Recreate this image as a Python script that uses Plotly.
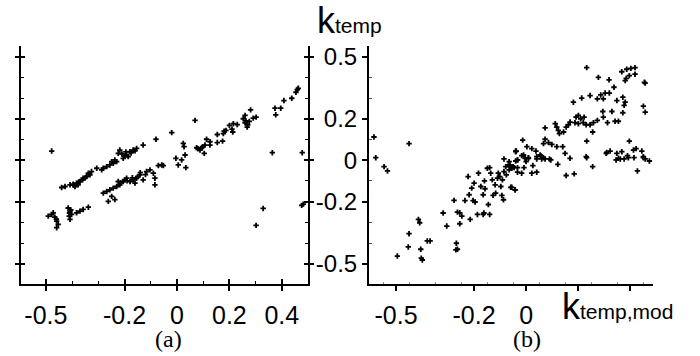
import plotly.graph_objects as go

# ---------------- data ----------------
xa = [-0.478, -0.080, -0.129,
      -0.218, -0.224, -0.192, -0.179, -0.167, -0.154, -0.186, -0.205, -0.230, -0.243, -0.256, -0.268,
      -0.281, -0.287, -0.306, -0.326, -0.332, -0.345, -0.358, -0.370, -0.383, -0.396, -0.408, -0.427,
      -0.440, -0.389, -0.377, -0.338, -0.237, -0.249,
      -0.21, -0.20, -0.175, -0.16, -0.195, -0.36, -0.35, -0.395, -0.375,
      -0.058, -0.071, -0.103, -0.116, -0.090, -0.084, -0.084, -0.141, -0.154, -0.167, -0.179, -0.192,
      -0.205, -0.218, -0.230, -0.243, -0.256, -0.268, -0.281, -0.249, -0.237, -0.262, -0.224, -0.160,
      -0.129, -0.20, -0.19, -0.17, -0.15, -0.215, -0.14, -0.12,
      -0.491, -0.472, -0.466, -0.459, -0.459, -0.453, -0.415, -0.408, -0.402, -0.408, -0.383, -0.370,
      -0.358, -0.338, -0.478, -0.411, -0.41, -0.405, -0.46,
      -0.052, -0.020, -0.004, 0.005, 0.018, 0.031, 0.034, 0.024, 0.027, 0.069, 0.075, 0.088, 0.098,
      0.107, 0.104, 0.113, 0.126, 0.126, 0.154, 0.154, 0.174, 0.177, 0.187, 0.200, 0.215, 0.213, 0.230,
      0.253, 0.260, 0.263, 0.268, 0.276, 0.281, 0.291, 0.302, 0.329, 0.302, 0.364, 0.374, 0.377, 0.396,
      0.408, 0.438, 0.454, 0.459, 0.463, 0.478, 0.476, 0.482,
      0.08, 0.095, 0.18, 0.21, 0.26, 0.27]
ya = [0.044, 0.101, 0.073,
      0.049, 0.033, 0.025, 0.041, 0.049, 0.057, 0.017, 0.009, -0.007, -0.015, -0.023, -0.031,
      -0.039, -0.047, -0.039, -0.055, -0.071, -0.079, -0.087, -0.103, -0.111, -0.116, -0.119, -0.127,
      -0.132, -0.127, -0.119, -0.063, 0.001, -0.007,
      0.03, 0.02, 0.035, 0.045, 0.04, -0.095, -0.085, -0.12, -0.105,
      -0.023, -0.026, -0.047, -0.055, -0.063, -0.087, -0.119, -0.071, -0.087, -0.095, -0.103, -0.087,
      -0.103, -0.119, -0.127, -0.135, -0.143, -0.151, -0.159, -0.175, -0.190, -0.199, -0.103, -0.111,
      -0.095, -0.095, -0.10, -0.085, -0.08, -0.11, -0.06, -0.07,
      -0.270, -0.254, -0.275, -0.294, -0.326, -0.310, -0.231, -0.246, -0.262, -0.286, -0.254, -0.246,
      -0.238, -0.227, -0.262, -0.270, -0.255, -0.24, -0.285,
      -0.026, 0.133, 0.009, -0.023, 0.001, 0.025, -0.036, 0.081, 0.065, 0.192, 0.060, 0.049, 0.065,
      0.073, 0.033, 0.101, 0.089, 0.073, 0.124, 0.085, 0.092, 0.128, 0.144, 0.168, 0.176, 0.136, 0.172,
      0.200, 0.216, 0.190, 0.160, 0.187, 0.243, 0.203, 0.208, -0.233, -0.315, 0.036, 0.251, 0.219, 0.251,
      0.288, 0.299, 0.328, 0.341, 0.347, 0.036, -0.218, -0.212,
      0.055, 0.06, 0.14, 0.15, 0.18, 0.17]

xb = [-0.585, -0.450, -0.578, -0.546, -0.533, -0.085, -0.040, -0.033,
      -0.495, -0.450, -0.453, -0.414, -0.409, -0.405, -0.403, -0.399, -0.380, -0.369, -0.319, -0.305,
      -0.277, -0.268, -0.270, -0.264, -0.264, -0.255, -0.247, -0.255, -0.235, -0.223, -0.219, -0.215,
      -0.209, -0.204, -0.200, -0.196, -0.187, -0.183, -0.174, -0.165, -0.162, -0.158, -0.160, -0.165,
      -0.149, -0.140, -0.145, -0.140, -0.136, -0.130, -0.127, -0.119, -0.117, -0.110, -0.107, -0.101,
      -0.097, -0.093, -0.091, -0.087, -0.085, -0.078, -0.076, -0.068, -0.065, -0.059, -0.055, -0.050,
      -0.042, -0.040, -0.033, -0.040, -0.065,
      0.233, 0.278, 0.319, 0.368, 0.387, 0.403, 0.419, 0.397, 0.385, 0.381, 0.419, 0.458, 0.451, 0.458,
      0.338, 0.320, 0.304, 0.287, 0.274, 0.297, 0.246, 0.214, 0.182, 0.349, 0.372, 0.381, 0.377, 0.372,
      0.330, 0.295, 0.297, 0.313, 0.342, 0.355, 0.274, 0.259, 0.246, 0.256, 0.231, 0.220, 0.223, 0.210,
      0.201, 0.192, 0.188, 0.201, 0.169, 0.163, 0.154, 0.144, 0.128, 0.112, 0.118, 0.124, 0.073, 0.073,
      0.067, 0.086, 0.099, 0.118, 0.141, -0.013, 0.003, 0.022, 0.038, -0.038, -0.010, 0.054, 0.067,
      0.090, 0.041, 0.009, 0.150, 0.169, 0.233, 0.233, 0.310, 0.323, 0.349, 0.368, 0.397, 0.393, 0.413,
      0.423, 0.445, 0.362, 0.451,
      -0.017, -0.004, 0.009, -0.033, 0.000, -0.008, 0.026, 0.041, 0.057, 0.060, 0.073, 0.095, 0.122,
      0.154, 0.185, 0.231, 0.256, 0.308, 0.346, 0.355, 0.377, 0.390, 0.415, 0.451, 0.458, 0.474, 0.428,
      -0.046, -0.050, -0.062, -0.033, -0.017, 0.022, 0.041, -0.055, -0.042, 0.455]
yb = [0.112, 0.080, 0.012, -0.031, -0.052, 0.006, 0.044, 0.001,
      -0.463, -0.355, -0.419, -0.286, -0.302, -0.430, -0.473, -0.482, -0.390, -0.390, -0.255, -0.318,
      -0.194, -0.401, -0.433, -0.430, -0.251, -0.254, -0.270, -0.307, -0.195, -0.079, -0.167, -0.286,
      -0.135, -0.195, -0.111, -0.202, -0.262, -0.063, -0.127, -0.262, -0.255, -0.138, -0.100, -0.167,
      -0.039, -0.036, -0.214, -0.262, -0.063, -0.095, -0.170, -0.119, -0.159, -0.087, -0.063, -0.079,
      -0.127, -0.170, -0.095, -0.191, -0.055, -0.031, -0.071, -0.023, -0.047, -0.131, -0.039, -0.031,
      -0.143, -0.004, -0.036, 0.041, -0.007,
      0.447, 0.400, 0.388, 0.427, 0.439, 0.443, 0.447, 0.408, 0.395, 0.384, 0.415, 0.372, 0.261, 0.232,
      0.352, 0.324, 0.324, 0.315, 0.296, 0.296, 0.312, 0.300, 0.280, 0.288, 0.304, 0.280, 0.265, 0.229,
      0.235, 0.235, 0.208, 0.181, 0.188, 0.188, 0.192, 0.181, 0.171, 0.136, 0.171, 0.181, 0.208, 0.200,
      0.216, 0.208, 0.181, 0.176, 0.184, 0.171, 0.160, 0.136, 0.128, 0.176, 0.160, 0.144, 0.156, 0.101,
      0.080, 0.085, 0.076, 0.065, 0.065, 0.097, 0.065, 0.056, 0.044, 0.044, 0.025, 0.025, 0.012,
      0.006, 0.006, 0.009, 0.033, 0.009, 0.092, 0.012, 0.037, 0.044, 0.033, 0.041, 0.092, 0.012, 0.049,
      0.056, 0.044, 0.006, 0.012,
      0.022, 0.009, 0.012, 0.001, -0.007, -0.036, -0.026, 0.017, 0.022, 0.006, 0.006, 0.001, -0.020,
      -0.074, -0.066, 0.017, -0.031, 0.033, 0.001, 0.009, 0.006, 0.022, 0.012, 0.017, 0.006, -0.004, -0.052,
      -0.036, -0.031, -0.023, -0.058, -0.063, -0.063, -0.058, -0.131, -0.143, 0.376]

major_x = [-0.5, -0.2, 0, 0.2, 0.4]
major_x_text_a = ["-0.5", "-0.2", "0", "0.2", "0.4"]
major_x_text_b = ["-0.5", "-0.2", "0", "", ""]
minor_x_a = [-0.4, -0.3, -0.1, 0.1, 0.3]
minor_x_b = [-0.55, -0.45, -0.35, -0.25, -0.15, -0.05, 0.05, 0.15, 0.25, 0.35, 0.45]
major_y = [0.5, 0.2, 0, -0.2, -0.5]
major_y_text = ["0.5", "0.2", "0", "-0.2", "-0.5"]
minor_y = [0.4, 0.3, 0.1, -0.1, -0.3, -0.4]

x_range_a = [-0.595, 0.5]
x_range_b = [-0.604, 0.488]
y_range = [-0.596, 0.553]

# ---------------- figure ----------------
FONT = "Liberation Sans, Arial, sans-serif"
SERIF = "Liberation Serif, Times New Roman, serif"
mk = dict(symbol="cross", size=4.5, color="black", line=dict(width=0))

fig = go.Figure()
fig.add_trace(go.Scatter(x=xa, y=ya, mode="markers", marker=mk, xaxis="x", yaxis="y", showlegend=False))
fig.add_trace(go.Scatter(x=xb, y=yb, mode="markers", marker=mk, xaxis="x2", yaxis="y2", showlegend=False))
# empty trace for the overlay axes giving the inner half of crossing ticks
fig.add_trace(go.Scatter(x=[None], y=[None], mode="markers", xaxis="x3", yaxis="y3", showlegend=False))

dom_xa = [21 / 700, 308 / 700]
dom_xb = [369 / 700, 653 / 700]
dom_y = [1 - 283 / 356, 1 - 43 / 356]

common = dict(showgrid=False, zeroline=False, linecolor="black", linewidth=2, tickcolor="black")
xfont = dict(family=FONT, size=25, color="black")
yfont = dict(family=FONT, size=24, color="black")

fig.update_layout(
    width=700, height=356, margin=dict(l=0, r=0, t=0, b=0),
    paper_bgcolor="white", plot_bgcolor="white",
    xaxis=dict(domain=dom_xa, range=x_range_a, anchor="y", showline=True, ticks="outside",
               ticklen=5, tickwidth=2, tickmode="array", tickvals=major_x, ticktext=major_x_text_a,
               ticklabelstandoff=3, tickfont=xfont, **common),
    xaxis3=dict(overlaying="x", anchor="y3", range=x_range_a, showline=False, ticks="inside",
                ticklen=5, tickwidth=2, tickmode="array", tickvals=major_x, showticklabels=False,
                minor=dict(tickmode="array", tickvals=minor_x_a, ticks="inside", ticklen=3,
                           tickwidth=1, tickcolor="black"),
                **common),
    yaxis=dict(domain=dom_y, range=y_range, anchor="x", showline=True, mirror="ticks",
               ticks="outside", ticklen=4, tickwidth=2, tickmode="array", tickvals=major_y,
               showticklabels=False, **common),
    yaxis3=dict(overlaying="y", anchor="x3", range=y_range, showline=False, mirror="ticks",
                ticks="inside", ticklen=4, tickwidth=2, tickmode="array", tickvals=major_y,
                showticklabels=False,
                minor=dict(tickmode="array", tickvals=minor_y, ticks="inside", ticklen=3,
                           tickwidth=1, tickcolor="black"),
                **common),
    xaxis2=dict(domain=dom_xb, range=x_range_b, anchor="y2", showline=True, ticks="outside",
                ticklen=5, tickwidth=2, tickmode="array", tickvals=major_x, ticktext=major_x_text_b,
                ticklabelstandoff=3, tickfont=xfont,
                minor=dict(tickmode="array", tickvals=minor_x_b, ticks="inside", ticklen=2,
                           tickwidth=1, tickcolor="#888"),
                **common),
    yaxis2=dict(domain=dom_y, range=y_range, anchor="x2", showline=True, ticks="outside",
                ticklen=5, tickwidth=2, tickmode="array", tickvals=major_y, ticktext=major_y_text,
                tickfont=yfont,
                minor=dict(tickmode="array", tickvals=minor_y, ticks="inside", ticklen=3,
                           tickwidth=1, tickcolor="#555"),
                **common),
)

fig.add_annotation(text="(a)", xref="paper", yref="paper", x=168 / 700, y=1 - 339 / 356,
                   xanchor="center", yanchor="middle", showarrow=False,
                   font=dict(family=SERIF, size=24, color="black"))
fig.add_annotation(text="(b)", xref="paper", yref="paper", x=527 / 700, y=1 - 339 / 356,
                   xanchor="center", yanchor="middle", showarrow=False,
                   font=dict(family=SERIF, size=24, color="black"))
fig.add_annotation(text="k<span style='font-size:21px'>temp</span>", xref="paper", yref="paper",
                   x=315 / 700, y=1 - 18 / 356, xanchor="left", yanchor="middle", showarrow=False,
                   font=dict(family=FONT, size=36, color="black"))
fig.add_annotation(text="k<span style='font-size:21px'>temp,mod</span>", xref="paper", yref="paper",
                   x=560 / 700, y=1 - 306 / 356, xanchor="left", yanchor="middle", showarrow=False,
                   font=dict(family=FONT, size=36, color="black"))

fig.write_html("out.html")
